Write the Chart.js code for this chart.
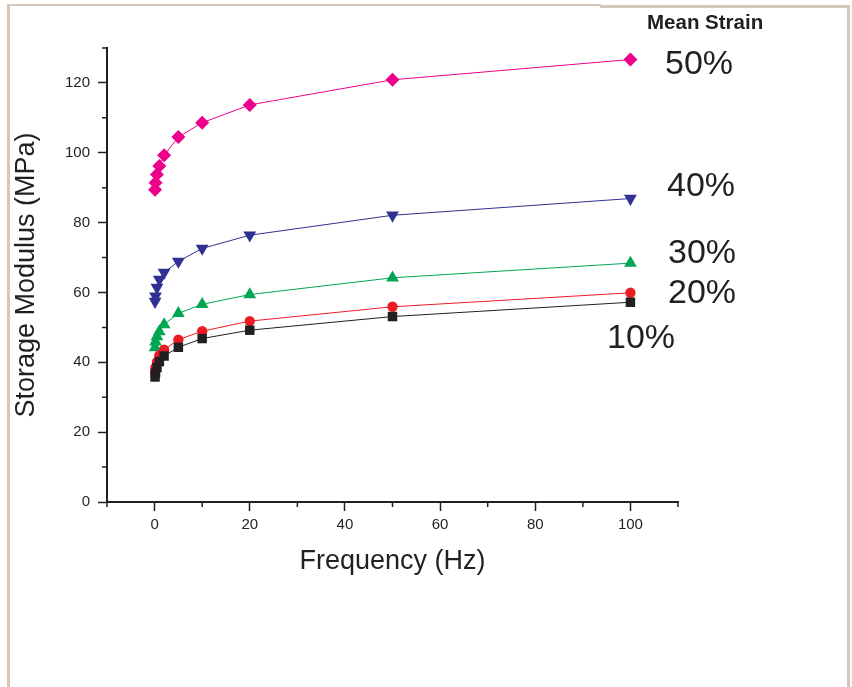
<!DOCTYPE html>
<html>
<head>
<meta charset="utf-8">
<title>Storage Modulus vs Frequency</title>
<script src="https://cdn.jsdelivr.net/npm/chart.js@4.4.1/dist/chart.umd.min.js"></script>
<style>
  html, body { margin: 0; padding: 0; background: #fff; }
  #wrap { position: relative; width: 852px; height: 687px; overflow: hidden; }
  .frame { position: absolute; background: #d6c7b8; }
  #main { position: absolute; left: 0; top: 0; }
</style>
</head>
<body>
<div id="wrap">
  <div class="frame" style="left:7px; top:4px; width:594px; height:2px;"></div>
  <div class="frame" style="left:600px; top:5px; width:250px; height:3px;"></div>
  <div class="frame" style="left:7px; top:4px; width:3px; height:683px;"></div>
  <div class="frame" style="left:847px; top:5px; width:3px; height:682px;"></div>
  <canvas id="main" width="852" height="687"></canvas>
</div>
<script>
// frequency (Hz) of each measurement
const frequency = [0.1, 0.2, 0.5, 1, 2, 5, 10, 20, 50, 100];

// storage modulus (MPa) per mean strain
const strainNames = ['10%', '20%', '30%', '40%', '50%'];
const modulus10 = [35.8, 37.0, 38.5, 40.2, 41.8, 44.3, 46.8, 49.2, 53.1, 57.2];
const modulus20 = [37.3, 38.5, 40.1, 42.0, 43.6, 46.5, 48.9, 51.8, 55.9, 59.9];
const modulus30 = [44.2, 45.9, 47.4, 48.8, 50.8, 54.0, 56.6, 59.4, 64.2, 68.4];
const modulus40 = [57.4, 58.9, 61.4, 63.7, 65.7, 68.9, 72.6, 76.4, 82.1, 86.9];
const modulus50 = [89.4, 91.4, 93.8, 96.2, 99.3, 104.5, 108.6, 113.7, 120.9, 126.7];

// axis ticks
const xMajor = [0, 20, 40, 60, 80, 100];
const xMinor = [-10, 10, 30, 50, 70, 90, 110];
const yMajor = [0, 20, 40, 60, 80, 100, 120];
const yMinor = [10, 30, 50, 70, 90, 110, 130];

const ink = '#231f20';
const fontFamily = '"Liberation Sans", Arial, Helvetica, sans-serif';

const series = [
  { values: modulus10, color: ink,       style: 'rect',     radius: 6.7, rotation: 0 },
  { values: modulus20, color: '#ed1c24', style: 'circle',   radius: 5.2, rotation: 0 },
  { values: modulus30, color: '#00a651', style: 'triangle', radius: 7.4, rotation: 0 },
  { values: modulus40, color: '#2e3192', style: 'triangle', radius: 7.4, rotation: 180 },
  { values: modulus50, color: '#ec008c', style: 'rectRot',  radius: 7, rotation: 0 },
];

const datasets = series.map((s, i) => ({
  label: strainNames[i],
  data: frequency.map((f, j) => ({ x: f, y: s.values[j] })),
  showLine: true,
  borderColor: s.color,
  borderWidth: 1,
  backgroundColor: s.color,
  pointBackgroundColor: s.color,
  pointBorderColor: s.color,
  pointBorderWidth: 0,
  pointStyle: s.style,
  pointRadius: s.radius,
  pointRotation: s.rotation,
  tension: 0,
}));

// where the strain labels sit next to the curves
const labelSpots = [[607, 348], [668, 303], [668, 263], [667, 196], [665, 74]];

const extras = {
  id: 'extras',
  afterDraw(c) {
    const { ctx, chartArea, scales: { x, y } } = c;
    ctx.save();
    ctx.strokeStyle = ink;
    ctx.lineWidth = 1.5;
    ctx.beginPath();
    xMinor.forEach(v => {
      const px = x.getPixelForValue(v);
      ctx.moveTo(px, chartArea.bottom);
      ctx.lineTo(px, chartArea.bottom + 5);
    });
    yMinor.forEach(v => {
      const py = y.getPixelForValue(v);
      ctx.moveTo(chartArea.left - 5, py);
      ctx.lineTo(chartArea.left, py);
    });
    ctx.stroke();

    ctx.fillStyle = ink;
    ctx.textBaseline = 'alphabetic';
    ctx.textAlign = 'left';
    ctx.font = 'bold 20.5px ' + fontFamily;
    ctx.fillText('Mean Strain', 647, 29);
    ctx.font = '34px ' + fontFamily;
    strainNames.forEach((name, i) => ctx.fillText(name, labelSpots[i][0], labelSpots[i][1]));
    ctx.restore();
  }
};

const tickFont = { family: fontFamily, size: 15 };
const titleFont = { family: fontFamily, size: 27 };

new Chart(document.getElementById('main'), {
  type: 'scatter',
  data: { datasets },
  options: {
    responsive: false,
    animation: false,
    events: [],
    layout: { padding: { left: 0, top: 48, right: 174, bottom: 0 } },
    plugins: { legend: { display: false }, tooltip: { enabled: false } },
    scales: {
      x: {
        type: 'linear',
        min: -10,
        max: 110,
        afterBuildTicks: s => { s.ticks = xMajor.map(v => ({ value: v })); },
        afterFit: s => { s.height = 185; },
        ticks: { font: tickFont, color: ink, padding: 5, maxRotation: 0 },
        grid: { drawOnChartArea: false, tickLength: 9, tickColor: ink, tickWidth: 1.5 },
        border: { color: ink, width: 2 },
        title: { display: true, text: 'Frequency (Hz)', font: titleFont, color: ink, padding: { top: 0, bottom: 109 } },
      },
      y: {
        type: 'linear',
        min: 0,
        max: 130,
        afterBuildTicks: s => { s.ticks = yMajor.map(v => ({ value: v })); },
        afterFit: s => { s.width = 107; },
        ticks: { font: tickFont, color: ink, padding: 8 },
        grid: { drawOnChartArea: false, tickLength: 9, tickColor: ink, tickWidth: 1.5 },
        border: { color: ink, width: 2 },
        title: { display: true, text: 'Storage Modulus (MPa)', font: titleFont, color: ink, padding: { top: 10, bottom: 0 } },
      },
    },
  },
  plugins: [extras],
});
</script>
</body>
</html>
